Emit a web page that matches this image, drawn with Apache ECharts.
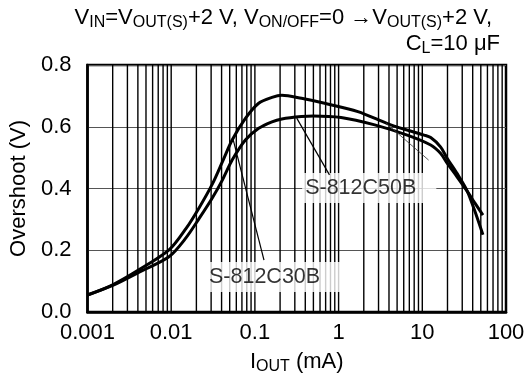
<!DOCTYPE html>
<html><head><meta charset="utf-8">
<script src="https://cdn.jsdelivr.net/npm/echarts@6/dist/echarts.min.js"></script>
<style>html,body{margin:0;padding:0;background:#fff}#c{width:531px;height:380px}</style>
</head><body><div id="c"></div>
<script>
// ---- data ----
const xTickLabels = ['0.001', '0.01', '0.1', '1', '10', '100'];
const yTicks = [0, 0.2, 0.4, 0.6, 0.8];
const c30x = [0.001, 0.002, 0.0042, 0.0095, 0.015, 0.0216, 0.0311, 0.041, 0.0535, 0.077, 0.111, 0.16, 0.21, 0.36, 0.68, 1.7, 4.2, 10.5, 12.6, 16.5, 19.8, 26, 34, 42, 53];
const c30y = [0.055, 0.088, 0.138, 0.202, 0.27, 0.338, 0.415, 0.487, 0.557, 0.627, 0.676, 0.695, 0.702, 0.692, 0.676, 0.649, 0.606, 0.573, 0.565, 0.535, 0.498, 0.449, 0.395, 0.33, 0.25];
const c50x = [0.001, 0.002, 0.0042, 0.0095, 0.015, 0.0216, 0.0311, 0.041, 0.0535, 0.077, 0.111, 0.16, 0.21, 0.36, 0.5, 1.07, 2.7, 6.6, 12.6, 16.5, 19.8, 26, 34, 42, 53];
const c50y = [0.055, 0.086, 0.13, 0.18, 0.24, 0.303, 0.37, 0.428, 0.492, 0.557, 0.595, 0.616, 0.625, 0.633, 0.635, 0.63, 0.606, 0.573, 0.541, 0.514, 0.482, 0.438, 0.393, 0.355, 0.314];
const seriesNames = ['S-812C30B', 'S-812C50B'];
// label anchors (left-middle of label box) and leader lines, in data units
const labelAnchors = [[0.0257, 0.113], [0.362, 0.402]];
const leader30 = [[0.1285, 0.168], [0.0552, 0.557]];
const leader50 = [[0.778, 0.444], [0.316, 0.628]];
const thinLine = [[3.68, 0.612], [11.9, 0.492]];

const FONT = 'Liberation Sans, Arial, Helvetica, sans-serif';
const zip = (xs, ys) => xs.map((x, i) => [x, ys[i]]);

// vertical grid lines at 1..9 x 10^k
const vLines = [];
for (let e = -3; e <= 2; e++) {
  for (let m = 1; m <= 9; m++) {
    const v = +(m * Math.pow(10, e)).toPrecision(3);
    if (v > 0.001 && v < 100) vLines.push([v]);
  }
}

const rich = {
  n: { fontSize: 22, lineHeight: 26, fontWeight: 'normal', fontFamily: FONT, color: '#000' },
  s: { fontSize: 16, lineHeight: 12, fontWeight: 'normal', verticalAlign: 'bottom', fontFamily: FONT, color: '#000' }
};

const chart = echarts.init(document.getElementById('c'), null, { renderer: 'canvas' });
chart.setOption({
  animation: false,
  backgroundColor: '#fff',
  title: [
    { text: '{n|V}{s|IN}{n|=V}{s|OUT(S)}{n|+2 V, V}{s|ON/OFF}{n|=0 →V}{s|OUT(S)}{n|+2 V,}',
      right: 39, top: 5, padding: 0, textStyle: { fontWeight: 'normal', rich } },
    { text: '{n|C}{s|L}{n|=10 μF}', right: 31, top: 31, padding: 0, textStyle: { fontWeight: 'normal', rich } }
  ],
  grid: { left: 84, right: 25, top: 65, bottom: 68, show: true, borderColor: '#000', borderWidth: 2.5, backgroundColor: 'transparent' },
  xAxis: {
    type: 'log', logBase: 10, min: 0.001, max: 100,
    axisLine: { show: true, lineStyle: { color: '#000', width: 2.5 } },
    axisTick: { show: false },
    splitLine: { show: false },
    axisLabel: { fontSize: 22, fontFamily: FONT, color: '#000', margin: 10,
      formatter: v => { const i = Math.round(Math.log10(v)) + 3; return xTickLabels[i] || ''; } },
    name: '{n|I}{s|OUT}{n| (mA)}', nameLocation: 'middle', nameGap: 37,
    nameTextStyle: { rich }
  },
  yAxis: {
    type: 'value', min: yTicks[0], max: yTicks[yTicks.length - 1], interval: 0.2,
    axisLine: { show: true, lineStyle: { color: '#000', width: 2.5 } },
    axisTick: { show: false },
    splitLine: { show: true, lineStyle: { color: '#555', width: 1.2 } },
    axisLabel: { fontSize: 22, fontFamily: FONT, color: '#000', margin: 16, formatter: v => v.toFixed(1) },
    name: 'Overshoot (V)', nameLocation: 'middle', nameGap: 47,
    nameTextStyle: { fontSize: 22, fontFamily: FONT, color: '#000' }
  },
  series: [
    { type: 'custom', z: 2, silent: true, data: vLines,
      encode: { x: 0 },
      renderItem: (params, api) => {
        const v = api.value(0);
        const p0 = api.coord([v, yTicks[0]]);
        const p1 = api.coord([v, yTicks[yTicks.length - 1]]);
        return { type: 'line', shape: { x1: p0[0], y1: p0[1], x2: p1[0], y2: p1[1] },
          style: { stroke: '#000', lineWidth: 1.4 } };
      } },
    { type: 'scatter', z: 5, symbolSize: 1, itemStyle: { color: 'rgba(0,0,0,0)' },
      data: labelAnchors.map((p, i) => ({ value: p, name: seriesNames[i] })),
      label: { show: true, position: 'right', distance: 0, formatter: p => p.name,
        fontSize: 21.5, fontFamily: FONT, color: '#000', backgroundColor: '#fff',
        lineHeight: 22, padding: [4, 20, 4, 3] } },
    { name: seriesNames[0], type: 'line', z: 6, data: zip(c30x, c30y), smooth: 0.3, showSymbol: false,
      lineStyle: { color: '#000', width: 3 } },
    { name: seriesNames[1], type: 'line', z: 6, data: zip(c50x, c50y), smooth: 0.3, showSymbol: false,
      lineStyle: { color: '#000', width: 3 } },
    { type: 'line', z: 7, data: leader30, showSymbol: false, lineStyle: { color: '#000', width: 1.2 } },
    { type: 'line', z: 7, data: leader50, showSymbol: false, lineStyle: { color: '#000', width: 1.2 } },
    { type: 'line', z: 7, data: thinLine, showSymbol: false, lineStyle: { color: '#333', width: 0.8 } }
  ]
});
</script></body></html>
